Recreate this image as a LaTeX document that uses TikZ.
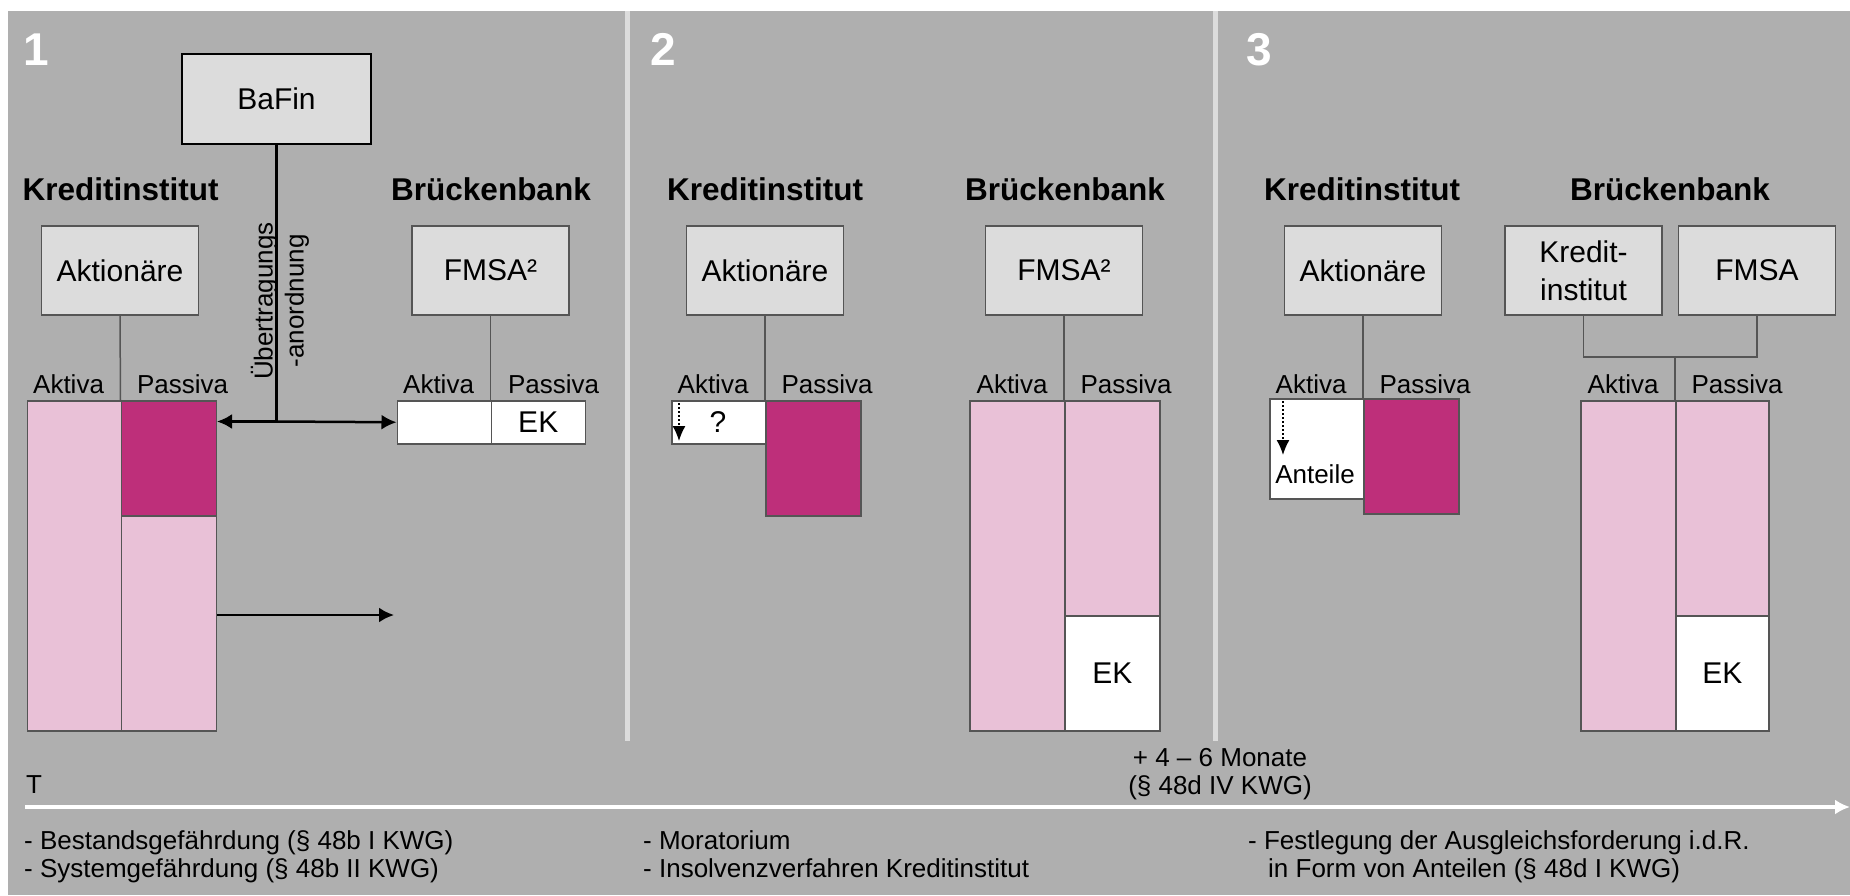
\documentclass[tikz,border=0pt]{standalone}
\usepackage{fontspec}
\setmainfont{Liberation Sans}
\usetikzlibrary{arrows,arrows.meta}
\definecolor{bggray}{RGB}{175,175,175}
\definecolor{boxgray}{RGB}{220,220,220}
\definecolor{edgegray}{RGB}{85,85,85}
\definecolor{rosa}{RGB}{233,193,215}
\definecolor{beere}{RGB}{190,47,122}

\begin{document}
\begin{tikzpicture}[x=1pt,y=-1pt,
  num/.style={text=white,font=\bfseries\fontsize{46}{50}\selectfont},
  title/.style={font=\bfseries\fontsize{31.5}{36}\selectfont},
  box/.style={draw=edgegray,fill=boxgray,line width=1.5pt,inner sep=0pt,
    minimum width=157pt,minimum height=89pt,align=center,
    font=\fontsize{30}{38}\selectfont},
  bal/.style={draw=edgegray,line width=1.5pt,inner sep=0pt,anchor=north west,
    font=\fontsize{30}{36}\selectfont},
  lab/.style={font=\fontsize{26}{30}\selectfont},
  conn/.style={draw=edgegray,line width=1.5pt},
  arr/.style={-{Latex[length=15pt,width=15pt]},line width=2.5pt},
  dotarr/.style={-{Latex[length=15pt,width=13pt]},line width=1.5pt,
    dash pattern=on 2pt off 2pt},
  txt/.style={font=\fontsize{26}{28}\selectfont,align=left,anchor=north west,
    inner sep=0pt}]
  % Background
  \useasboundingbox (0,0) rectangle (1850,895);
  \fill[white] (0,0) rectangle (1850,895);
  \fill[bggray] (8,11) rectangle (1850,895);
  \draw[boxgray,line width=5pt] (627,11) -- (627,741);
  \draw[boxgray,line width=5pt] (1215,11) -- (1215,741);

  % Phase 1
  \node[num,anchor=base] (n1) at (36,65) {1};
  \node[box,draw=black,minimum width=189pt,minimum height=90pt] (bafin) at (276.5,99) {BaFin};
  \node[title,anchor=base] (ki1) at (120.5,200) {Kreditinstitut};
  \node[title,anchor=base] (bb1) at (491,200) {Brückenbank};
  \node[box] (akt1) at (120,270.5) {Aktionäre};
  \node[box] (fmsa1) at (490.5,270.5) {FMSA²};
  \node[bal,fill=rosa,minimum width=94pt,minimum height=330pt] (ka1) at (26.5,400) {};
  \node[bal,fill=beere,minimum width=95pt,minimum height=115pt] (kp1) at (120.5,400) {};
  \node[bal,fill=rosa,minimum width=95pt,minimum height=215pt] (kq1) at (120.5,515) {};
  \node[bal,fill=white,minimum width=94pt,minimum height=43pt] (ba1) at (396.5,400) {};
  \node[bal,fill=white,minimum width=94pt,minimum height=43pt] (bp1) at (490.5,400) {EK};
  \node[lab,anchor=base east] (a1) at (107.5,393) {Aktiva};
  \node[lab,anchor=base west] (p1) at (133.5,393) {Passiva};
  \node[lab,anchor=base east] (a1b) at (477.5,393) {Aktiva};
  \node[lab,anchor=base west] (p1b) at (504.5,393) {Passiva};
  \draw[conn] (akt1.south) -- (kp1.north west);
  \draw[conn] (fmsa1.south) -- (bp1.north west);
  % Transfer order
  \coordinate (hub) at (276.5,421.5);
  \coordinate (out1) at (394,615);
  \draw[line width=2.5pt] (bafin.south) -- (hub);
  \draw[arr] (hub) -- (kp1.east |- hub);
  \draw[arr] (hub) -- (ba1.west);
  \draw[arr] (kq1.east |- out1) -- (out1);
  \node[lab,rotate=90,align=center,font=\fontsize{26}{31}\selectfont,inner sep=0pt]
    (order) at (280,301) {Übertragungs\\-anordnung};

  % Phase 2
  \node[num,anchor=base] (n2) at (663,65) {2};
  \node[title,anchor=base] (ki2) at (765,200) {Kreditinstitut};
  \node[title,anchor=base] (bb2) at (1065,200) {Brückenbank};
  \node[box] (akt2) at (765,270.5) {Aktionäre};
  \node[box] (fmsa2) at (1064,270.5) {FMSA²};
  \node[bal,fill=white,minimum width=94pt,minimum height=43pt] (ka2) at (671,400) {};
  \node[bal,fill=beere,minimum width=95pt,minimum height=115pt] (kp2) at (765,400) {};
  \node[bal,fill=rosa,minimum width=95pt,minimum height=330pt] (ba2) at (969,400) {};
  \node[bal,fill=rosa,minimum width=95pt,minimum height=215pt] (bp2) at (1064,400) {};
  \node[bal,fill=white,minimum width=95pt,minimum height=115pt] (bq2) at (1064,615) {EK};
  \node[lab,anchor=base east] (a2) at (752,393) {Aktiva};
  \node[lab,anchor=base west] (p2) at (778,393) {Passiva};
  \node[lab,anchor=base east] (a2b) at (1051,393) {Aktiva};
  \node[lab,anchor=base west] (p2b) at (1077,393) {Passiva};
  \draw[conn] (akt2.south) -- (kp2.north west);
  \draw[conn] (fmsa2.south) -- (bp2.north west);
  \coordinate (q2top) at (679,403);
  \coordinate (q2bot) at (679,441);
  \draw[dotarr] (q2top) -- (q2bot);
  \node[font=\fontsize{30}{36}\selectfont] (qm) at (718,422) {?};

  % Phase 3
  \node[num,anchor=base] (n3) at (1259,65) {3};
  \node[title,anchor=base] (ki3) at (1362,200) {Kreditinstitut};
  \node[title,anchor=base] (bb3) at (1670,200) {Brückenbank};
  \node[box] (akt3) at (1363,270.5) {Aktionäre};
  \node[box] (kinst) at (1583.5,270.5) {Kredit-\\institut};
  \node[box] (fmsa3) at (1757,270.5) {FMSA};
  \node[bal,fill=white,minimum width=94pt,minimum height=100pt] (ka3) at (1269,398) {};
  \node[bal,fill=beere,minimum width=95pt,minimum height=115pt] (kp3) at (1363,398) {};
  \node[bal,fill=rosa,minimum width=95pt,minimum height=330pt] (ba3) at (1580,400) {};
  \node[bal,fill=rosa,minimum width=93pt,minimum height=215pt] (bp3) at (1675,400) {};
  \node[bal,fill=white,minimum width=93pt,minimum height=115pt] (bq3) at (1675,615) {EK};
  \node[lab,anchor=base east] (a3) at (1350,393) {Aktiva};
  \node[lab,anchor=base west] (p3) at (1376,393) {Passiva};
  \node[lab,anchor=base east] (a3b) at (1662,393) {Aktiva};
  \node[lab,anchor=base west] (p3b) at (1688,393) {Passiva};
  \coordinate (join3) at (1675,357);
  \draw[conn] (akt3.south) -- (kp3.north west);
  \draw[conn] (kinst.south) |- (join3) -| (fmsa3.south);
  \draw[conn] (join3) -- (bp3.north west);
  \coordinate (q3top) at (1283,401);
  \coordinate (q3bot) at (1283,455);
  \draw[dotarr] (q3top) -- (q3bot);
  \node[lab,anchor=base] (ant) at (1315,483) {Anteile};

  % Time line
  \coordinate (t0) at (25,807);
  \coordinate (t1) at (1850,807);
  \draw[white,line width=4pt,-{Latex[length=15pt,width=15pt]}] (t0) -- (t1);
  \node[lab,anchor=base west,inner sep=0pt] (tl) at (26,793) {T};
  \node[lab,align=center,font=\fontsize{26}{28}\selectfont,inner sep=0pt] (mon) at (1220,774)
    {+ 4 – 6 Monate\\(§ 48d IV KWG)};
  \node[txt] (d1) at (24,830) {- Bestandsgefährdung (§ 48b I KWG)\\- Systemgefährdung (§ 48b II KWG)};
  \node[txt] (d2) at (643,830) {- Moratorium\\- Insolvenzverfahren Kreditinstitut};
  \node[txt] (d3) at (1248,830) {- Festlegung der Ausgleichsforderung i.d.R.\\\hspace*{20pt}in Form von Anteilen (§ 48d I KWG)};
\end{tikzpicture}
\end{document}
